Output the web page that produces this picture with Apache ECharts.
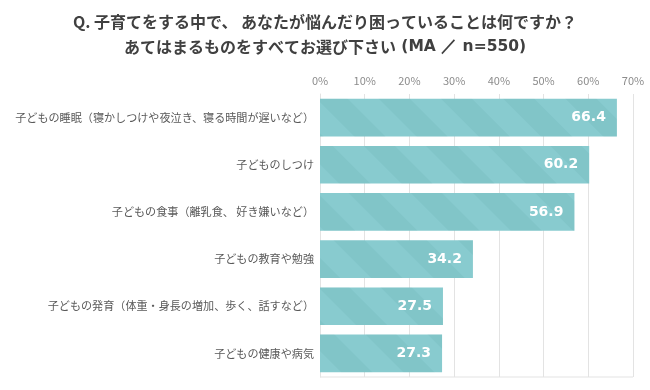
<!DOCTYPE html>
<html><head><meta charset="utf-8">
<script src="https://cdn.jsdelivr.net/npm/echarts@6/dist/echarts.min.js"></script>
<style>html,body{margin:0;padding:0;background:#fff}#c{width:650px;height:390px}</style>
</head><body><div id="c"></div>
<script>
const categories = [
  '子どもの睡眠（寝かしつけや夜泣き、寝る時間が遅いなど）',
  '子どものしつけ',
  '子どもの食事（離乳食、 好き嫌いなど）',
  '子どもの教育や勉強',
  '子どもの発育（体重・身長の増加、歩く、話すなど）',
  '子どもの健康や病気'
];
const values = [66.4, 60.2, 56.9, 34.2, 27.5, 27.3];
const titleLine1 = 'Q. 子育てをする中で、 あなたが悩んだり困っていることは何ですか？';
const titleLine2a = 'あてはまるものをすべてお選び下さい';
const titleLine2b = ' (MA ／ n=550)';

const chart = echarts.init(document.getElementById('c'), null, {renderer:'canvas'});
chart.setOption({
  animation:false,
  title:{text:'{a|' + titleLine1 + '}\n{a|' + titleLine2a + '}{b|' + titleLine2b + '}', left:'center', top:4,
    textStyle:{rich:{
      a:{fontFamily:'Noto Sans CJK JP', fontSize:16, fontWeight:'bold', color:'#404040', lineHeight:25},
      b:{fontFamily:'DejaVu Sans', fontSize:15.5, fontWeight:'bold', color:'#404040', lineHeight:25}}}},
  grid:{left:320, right:17, top:94, bottom:13, containLabel:false, outerBoundsMode:'none'},
  xAxis:{type:'value', position:'top', min:0, max:70, interval:10,
    axisLabel:{formatter:'{value}%', color:'#8c8c8c', fontSize:11, fontFamily:'Noto Sans CJK JP', margin:8},
    axisLine:{show:false}, axisTick:{show:false},
    splitLine:{show:true, lineStyle:{color:'#e3e3e3', width:1}}},
  yAxis:{type:'category', inverse:true, data:categories,
    axisLabel:{color:'#595959', fontSize:11.1, fontFamily:'Noto Sans CJK JP', margin:6},
    axisLine:{show:true, lineStyle:{color:'#e3e3e3'}}, axisTick:{show:false}},
  series:[{type:'bar', data:values, barWidth:'80%',
    itemStyle:{color:'#88cbcf',
      decal:{symbol:'rect', dashArrayX:[1,0], dashArrayY:[22,22], rotation:Math.PI/4, color:'rgba(60,130,135,0.09)'}},
    label:{show:true, position:'insideRight', color:'#fff', fontWeight:'bold', fontSize:14, fontFamily:'DejaVu Sans', offset:[-6,0],
      formatter:p=>p.value.toFixed(1)}}],
  graphic:[{type:'line', shape:{x1:320,y1:377,x2:633,y2:377}, style:{stroke:'#e3e3e3',lineWidth:1}}]
});
</script></body></html>
